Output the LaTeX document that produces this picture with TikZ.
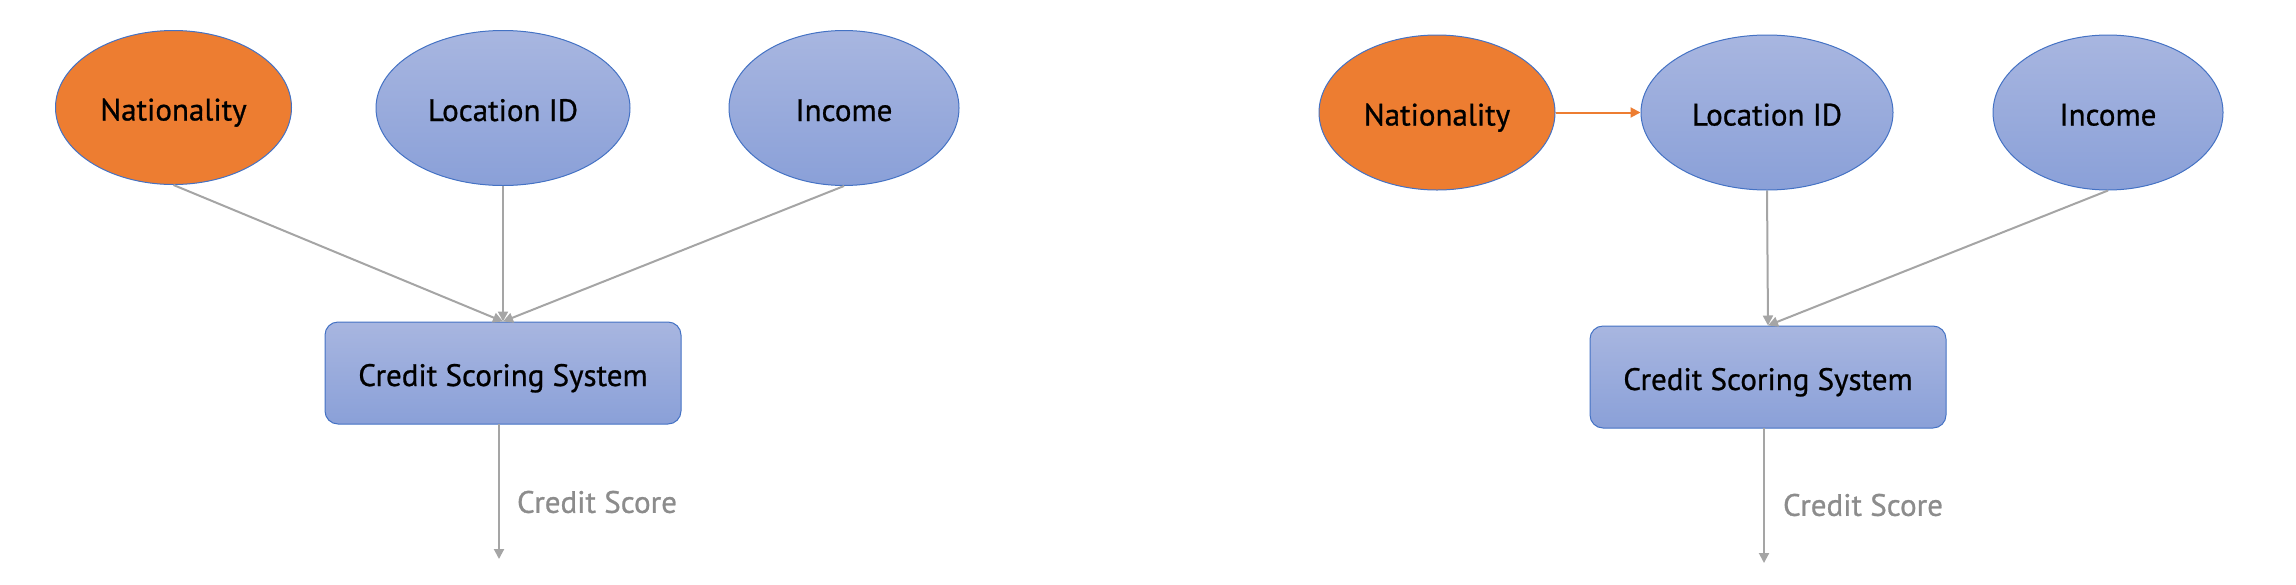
\documentclass[tikz,border=0pt]{standalone}
\usepackage{fontspec}
\setmainfont{PT Sans}[FakeBold=0.8]
\usetikzlibrary{arrows.meta,shapes.geometric}
\definecolor{orng}{HTML}{ED7D31}
\definecolor{btop}{HTML}{A8B6E0}
\definecolor{bbot}{HTML}{8AA0D8}
\definecolor{bedge}{HTML}{4472C4}
\definecolor{arr}{HTML}{A5A5A5}
\definecolor{lbl}{HTML}{8C8C8C}
\newcommand{\lowtxt}[1]{\raisebox{-6.5pt}[0pt][0pt]{#1}}
\tikzset{
  nodefont/.style={font=\fontsize{15.5}{18}\selectfont},
  orangenode/.style={ellipse, draw=bedge, line width=0.5pt, fill=orng, inner sep=0pt, nodefont},
  bluenode/.style={ellipse, draw=bedge, line width=0.5pt, top color=btop, bottom color=bbot, inner sep=0pt, nodefont},
  sysbox/.style={rectangle, rounded corners=6.5pt, draw=bedge, line width=0.5pt, top color=btop, bottom color=bbot, minimum width=178pt, minimum height=51pt, nodefont},
  garrow/.style={draw=arr, line width=1pt, -{Triangle[width=5pt,length=5pt]}},
  oarrow/.style={draw=orng, line width=1pt, -{Triangle[width=5pt,length=5pt]}},
  outlbl/.style={text=lbl, anchor=west, nodefont}
}
\begin{document}
\begin{tikzpicture}[x=0.5pt,y=-0.5pt]
\useasboundingbox (0,0) rectangle (2296,584);
% left diagram
\node[orangenode, minimum width=118pt, minimum height=77pt] (n1) at (173.5,107.5) {\lowtxt{Nationality}};
\node[bluenode, minimum width=127pt, minimum height=77.5pt] (l1) at (503,108) {\lowtxt{Location ID}};
\node[bluenode, minimum width=115pt, minimum height=77.5pt] (i1) at (844,108) {\lowtxt{Income}};
\node[sysbox] (s1) at (503,373) {\lowtxt{Credit Scoring System}};
\coordinate (o1s) at (499,424);
\coordinate (o1e) at (499,559);
\draw[garrow] (n1.south) -- (s1.north);
\draw[garrow] (l1.south) -- (s1.north);
\draw[garrow] (i1.south) -- (s1.north);
\draw[garrow] (o1s) -- (o1e);
\node[outlbl] (c1) at (510,502) {Credit Score};
% right diagram
\node[orangenode, minimum width=118pt, minimum height=77.5pt] (n2) at (1437,112.5) {\lowtxt{Nationality}};
\node[bluenode, minimum width=126pt, minimum height=77.5pt] (l2) at (1767,112.5) {\lowtxt{Location ID}};
\node[bluenode, minimum width=115pt, minimum height=77.5pt] (i2) at (2108,112.5) {\lowtxt{Income}};
\node[sysbox] (s2) at (1768,377) {\lowtxt{Credit Scoring System}};
\coordinate (o2s) at (1764,428);
\coordinate (o2e) at (1764,563);
\draw[oarrow] (n2.east) -- (l2.west);
\draw[garrow] (l2.south) -- (s2.north);
\draw[garrow] (i2.south) -- (s2.north);
\draw[garrow] (o2s) -- (o2e);
\node[outlbl] (c2) at (1776,505) {Credit Score};
\end{tikzpicture}
\end{document}
